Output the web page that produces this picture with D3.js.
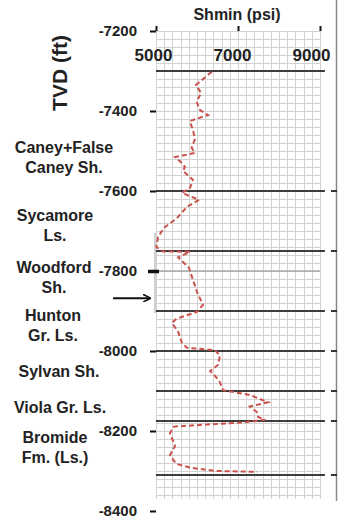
<!DOCTYPE html>
<html>
<head>
<meta charset="utf-8">
<script src="https://cdn.jsdelivr.net/npm/d3@7"></script>
<style>
  body { margin: 0; background: #fff; }
  svg { display: block; font-family: "Liberation Sans", Arial, sans-serif; }
</style>
</head>
<body>
<svg id="chart" width="338" height="519"></svg>
<script>
// Shmin profile (psi) against TVD (ft)
var shminPsi = [6360, 5975, 6100, 5990, 6075, 6270, 5830, 5910, 5950, 5870, 5950, 5465, 5610, 5705, 5660,
  5900, 5830, 5635, 6050, 5755, 5510, 5195, 5050, 5010, 5170, 5830, 5540, 5805, 5900, 6000, 6145,
  6000, 5490, 5390, 5540, 5635, 5750, 6440, 6560, 6510, 6320, 6440, 6560, 6635, 7290, 7730, 7290,
  7455, 7490, 7660, 7170, 5440, 5340, 5465, 5340, 5490, 5855, 6465, 7465];
var shminTvd = [-7302, -7335, -7355, -7377, -7398, -7410, -7425, -7452, -7470, -7492, -7505, -7515, -7528, -7540, -7550,
  -7572, -7592, -7605, -7622, -7640, -7668, -7692, -7715, -7740, -7751, -7752, -7766, -7792, -7822, -7852, -7885,
  -7902, -7920, -7930, -7952, -7980, -7992, -7998, -8012, -8035, -8050, -8062, -8078, -8098, -8110, -8128, -8139,
  -8152, -8165, -8172, -8178, -8189, -8205, -8238, -8260, -8282, -8292, -8300, -8302];

var formationTops = [-7300, -7600, -7750, -7900, -8000, -8100, -8175, -8310];
var formationNames = [["Caney+False", "Caney Sh."], ["Sycamore", "Ls."], ["Woodford", "Sh."],
  ["Hunton", "Gr. Ls."], ["Sylvan Sh."], ["Viola Gr. Ls."], ["Bromide", "Fm. (Ls.)"]];
var depthTicks = [-7200, -7400, -7600, -7800, -8000, -8200, -8400];
var psiTicks = [5000, 7000, 9000];
var markerTvd = -7800;
var arrowTvd = -7868;

var svg = d3.select("#chart");

var x = d3.scaleLinear().domain([5000, 9000]).range([156, 320]);
var y = d3.scaleLinear().domain([-7200, -8400]).range([31, 511]);

// background grid, 200 psi by 20 ft
var grid = svg.append("g").attr("stroke", "#d2d2d2").attr("stroke-width", 1);
grid.selectAll("line.v")
  .data(d3.range(5000, 9001, 200))
  .enter().append("line")
  .attr("class", "v")
  .attr("x1", function(d) { return Math.round(x(d)) + 0.5; })
  .attr("x2", function(d) { return Math.round(x(d)) + 0.5; })
  .attr("y1", y(-7200))
  .attr("y2", y(-8370));
grid.selectAll("line.h")
  .data(d3.range(-7200, -8371, -20))
  .enter().append("line")
  .attr("class", "h")
  .attr("x1", x(5000))
  .attr("x2", x(9000))
  .attr("y1", function(d) { return Math.round(y(d)) + 0.5; })
  .attr("y2", function(d) { return Math.round(y(d)) + 0.5; });

// grey marker line at -7800
svg.append("line")
  .attr("x1", x(5000)).attr("x2", x(9000))
  .attr("y1", y(markerTvd)).attr("y2", y(markerTvd))
  .attr("stroke", "#a8a8a8").attr("stroke-width", 1.5);

// formation tops
svg.selectAll("line.top")
  .data(formationTops)
  .enter().append("line")
  .attr("class", "top")
  .attr("x1", x(5000))
  .attr("x2", x(9120))
  .attr("y1", function(d) { return y(d); })
  .attr("y2", function(d) { return y(d); })
  .attr("stroke", "#3c3c3c")
  .attr("stroke-width", 2);

// right hand depth track
svg.append("line")
  .attr("x1", 336.5).attr("x2", 336.5)
  .attr("y1", 0).attr("y2", y(-8375))
  .attr("stroke", "#8a8a8a").attr("stroke-width", 1.5);
svg.selectAll("line.rtick")
  .data(formationTops.slice(1))
  .enter().append("line")
  .attr("class", "rtick")
  .attr("x1", 331).attr("x2", 337)
  .attr("y1", function(d) { return y(d); })
  .attr("y2", function(d) { return y(d); })
  .attr("stroke", "#333").attr("stroke-width", 2);

// thin bracket at left of Woodford/Hunton
svg.append("line")
  .attr("x1", 155).attr("x2", 155)
  .attr("y1", y(-7705)).attr("y2", y(-7905))
  .attr("stroke", "#b0b0b0").attr("stroke-width", 1.2);

// Shmin curve
var line = d3.line()
  .x(function(d, i) { return x(shminPsi[i]); })
  .y(function(d, i) { return y(shminTvd[i]); });

svg.append("path")
  .datum(shminTvd)
  .attr("d", line)
  .attr("fill", "none")
  .attr("stroke", "#c9524e")
  .attr("stroke-width", 2)
  .attr("stroke-dasharray", "5,3");

// axes
var xAxis = svg.append("g")
  .attr("transform", "translate(0," + y(-7200) + ")")
  .call(d3.axisTop(x).tickValues(psiTicks).tickSize(5).tickFormat(function(d) { return String(d); }));
xAxis.select(".domain").remove();
xAxis.selectAll(".tick line").attr("stroke", "#111").attr("stroke-width", 2);
xAxis.selectAll(".tick text")
  .attr("y", 24).attr("dy", "0.35em")
  .attr("font-size", 17).attr("font-weight", "bold")
  .attr("font-family", "Liberation Sans, Arial, sans-serif")
  .attr("fill", "#222")
  .attr("dx", function(d, i) { return -3 - i * 3; });

var yAxis = svg.append("g")
  .attr("transform", "translate(" + x(5000) + ",0)")
  .call(d3.axisLeft(y).tickValues(depthTicks).tickSize(6).tickPadding(13)
    .tickFormat(function(d) { return "-" + Math.abs(d); }));
yAxis.select(".domain").remove();
yAxis.selectAll(".tick line")
  .attr("stroke", "#111")
  .attr("stroke-width", function(d) { return d === markerTvd ? 3.5 : 2; })
  .attr("x2", function(d) { return d === markerTvd ? -8 : -6; })
  .attr("x1", function(d) { return d === markerTvd ? 3 : 0; });
yAxis.selectAll(".tick text")
  .attr("font-size", 15).attr("font-weight", "bold")
  .attr("font-family", "Liberation Sans, Arial, sans-serif")
  .attr("fill", "#222");

// axis titles
svg.append("text")
  .attr("x", 237).attr("y", 20)
  .attr("text-anchor", "middle")
  .attr("font-size", 16).attr("font-weight", "bold").attr("fill", "#222")
  .text("Shmin (psi)");

svg.append("text")
  .attr("transform", "translate(67,73) rotate(-90)")
  .attr("text-anchor", "middle")
  .attr("font-size", 21).attr("font-weight", "bold").attr("fill", "#222")
  .text("TVD (ft)");

// formation labels (layout: centre x and depth of first line)
var labelSpots = [[64, -7517], [55, -7685], [54, -7815], [53, -7935], [59, -8052], [60, -8140], [55, -8240]];
var labels = svg.append("g")
  .attr("font-size", 16).attr("font-weight", "bold").attr("fill", "#222")
  .attr("text-anchor", "middle");
formationNames.forEach(function(name, i) {
  var spot = labelSpots[i];
  var top = y(spot[1]) - (name.length - 1) * 10;
  name.forEach(function(txt, j) {
    labels.append("text")
      .attr("x", spot[0])
      .attr("y", top + j * 20)
      .attr("dy", "0.35em")
      .text(txt);
  });
});

// arrow pointing at the zone of interest
svg.append("defs").append("marker")
  .attr("id", "head")
  .attr("viewBox", "0 0 10 10")
  .attr("refX", 9).attr("refY", 5)
  .attr("markerWidth", 4).attr("markerHeight", 4)
  .attr("orient", "auto")
  .append("path")
  .attr("d", "M0,0 L10,5 L0,10")
  .attr("fill", "none").attr("stroke", "#111").attr("stroke-width", 2);

svg.append("line")
  .attr("x1", 113).attr("x2", 150)
  .attr("y1", y(arrowTvd)).attr("y2", y(arrowTvd))
  .attr("stroke", "#111").attr("stroke-width", 2)
  .attr("marker-end", "url(#head)");
</script>
</body>
</html>
